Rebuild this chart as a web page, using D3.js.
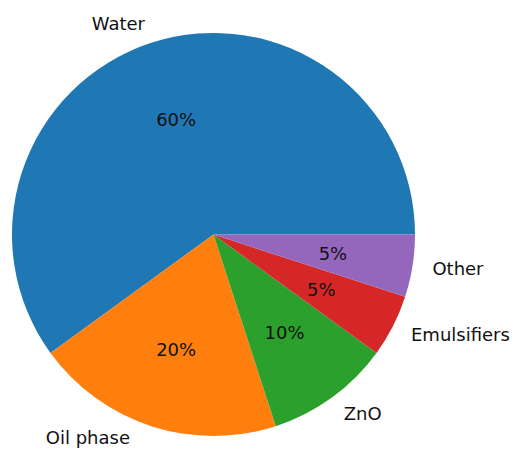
<!DOCTYPE html>
<html>
<head>
<meta charset="utf-8">
<script src="https://cdn.jsdelivr.net/npm/d3@7"></script>
<style>
  body { margin: 0; background: #fff; }
  text { font-family: "DejaVu Sans", sans-serif; }
</style>
</head>
<body>
<script>
var labels = ["Water", "Oil phase", "ZnO", "Emulsifiers", "Other"];
var values = [60, 20, 10, 5, 5];
var colors = ["#1f77b4", "#ff7f0e", "#2ca02c", "#d62728", "#9467bd"];

var width = 518,
    height = 451;
var cx = 213.5, cy = 234.5, r = 201.5;
var fontSize = 18;

var svg = d3.select("body").append("svg")
    .attr("width", width)
    .attr("height", height);

var g = svg.append("g").attr("transform", "translate(" + cx + "," + cy + ")");

var total = d3.sum(values);

// matplotlib style: start at 3 o'clock, go counterclockwise
var pie = d3.pie()
    .sort(null)
    .startAngle(Math.PI / 2)
    .endAngle(Math.PI / 2 - 2 * Math.PI);

var arc = d3.arc().innerRadius(0).outerRadius(r);

var arcs = pie(values);

g.selectAll("path")
    .data(arcs)
    .enter().append("path")
    .attr("d", arc)
    .attr("fill", function(d, i) { return colors[i]; });

function pos(d, k) {
    var a = (d.startAngle + d.endAngle) / 2;
    return [Math.sin(a) * r * k, -Math.cos(a) * r * k];
}

// outer labels; keep the ones near the bottom edge inside the picture
function labelPos(d) {
    var p = pos(d, 1.1);
    var maxY = height - cy - fontSize * 0.75;
    if (p[1] > maxY) {
        p[0] -= 15;
        p[1] = maxY;
    }
    return p;
}

g.selectAll("text.lbl")
    .data(arcs)
    .enter().append("text")
    .attr("class", "lbl")
    .attr("x", function(d) { return labelPos(d)[0]; })
    .attr("y", function(d) { return labelPos(d)[1]; })
    .attr("dy", "0.35em")
    .attr("text-anchor", function(d) { return labelPos(d)[0] < 0 ? "end" : "start"; })
    .attr("font-size", fontSize + "px")
    .attr("fill", "#111")
    .text(function(d, i) { return labels[i]; });

g.selectAll("text.pct")
    .data(arcs)
    .enter().append("text")
    .attr("class", "pct")
    .attr("x", function(d) { return pos(d, 0.6)[0]; })
    .attr("y", function(d) { return pos(d, 0.6)[1]; })
    .attr("dy", "0.35em")
    .attr("text-anchor", "middle")
    .attr("font-size", fontSize + "px")
    .attr("fill", "#111")
    .text(function(d) { return Math.round(d.value / total * 100) + "%"; });
</script>
</body>
</html>
